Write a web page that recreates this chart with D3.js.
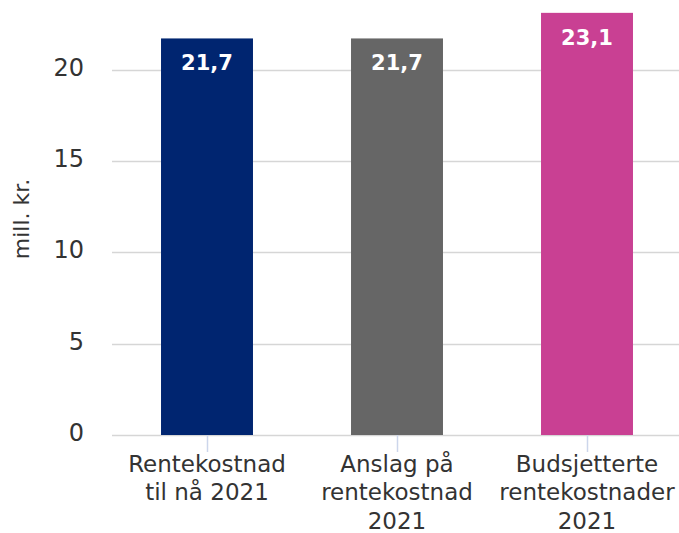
<!DOCTYPE html>
<html><head><meta charset="utf-8">
<script src="https://cdn.jsdelivr.net/npm/d3@7"></script>
<style>body{margin:0;background:#fff}svg{display:block;font-family:"DejaVu Sans",sans-serif}</style>
</head><body><svg id="c" width="679" height="533"></svg>
<script>
const categories = [["Rentekostnad","til nå 2021"],["Anslag på","rentekostnad","2021"],["Budsjetterte","rentekostnader","2021"]];
const values = [21.7, 21.7, 23.1];
const labels = ["21,7","21,7","23,1"];
const colors = ["#002570","#666666","#c94093"];
const yTicks = [0,5,10,15,20];
const yTitle = "mill. kr.";

(function(){
const svg = d3.select("#c");
const left = 112, right = 682, bottom = 435;
const x = d3.scaleBand().domain(d3.range(values.length)).range([left, right]).paddingInner(0.516).paddingOuter(0.258);
const y = d3.scaleLinear().domain([0, 20]).range([bottom, 69.5]);

svg.append("g").selectAll("line").data(yTicks).join("line")
  .attr("x1", left).attr("x2", 679)
  .attr("y1", d => Math.round(y(d)) + 0.5).attr("y2", d => Math.round(y(d)) + 0.5)
  .attr("stroke", "#d6d6d6").attr("stroke-width", 1.5);

svg.append("g").selectAll("text").data(yTicks).join("text")
  .attr("x", 84).attr("y", d => y(d) + 6)
  .attr("text-anchor", "end").attr("font-size", 24).attr("fill", "#333")
  .text(d => d);

svg.append("text").attr("transform", "translate(29,219) rotate(-90)")
  .attr("text-anchor", "middle").attr("font-size", 22).attr("fill", "#333").text(yTitle);

svg.append("g").selectAll("line").data(d3.range(values.length)).join("line")
  .attr("x1", i => x(i) + x.bandwidth()/2 + 0.5).attr("x2", i => x(i) + x.bandwidth()/2 + 0.5)
  .attr("y1", bottom).attr("y2", bottom + 17)
  .attr("stroke", "#ccd6eb").attr("stroke-width", 1.5);

svg.append("g").selectAll("rect").data(values).join("rect")
  .attr("x", (d, i) => x(i)).attr("width", x.bandwidth())
  .attr("y", d => y(d)).attr("height", d => bottom - y(d))
  .attr("fill", (d, i) => colors[i]);

svg.append("g").selectAll("text").data(values).join("text")
  .attr("x", (d, i) => x(i) + x.bandwidth()/2).attr("y", d => y(d) + 32)
  .attr("text-anchor", "middle").attr("font-size", 21).attr("font-weight", "bold").attr("fill", "#fff")
  .text((d, i) => labels[i]);

const xl = svg.append("g").selectAll("text").data(categories).join("text")
  .attr("x", (d, i) => x(i) + x.bandwidth()/2).attr("y", 472)
  .attr("text-anchor", "middle").attr("font-size", 23).attr("fill", "#333");
xl.selectAll("tspan").data(d => d).join("tspan")
  .attr("x", function(){ return this.parentNode.getAttribute("x"); })
  .attr("dy", (d, j) => j === 0 ? 0 : 28.3).text(d => d);
})();
</script></body></html>
